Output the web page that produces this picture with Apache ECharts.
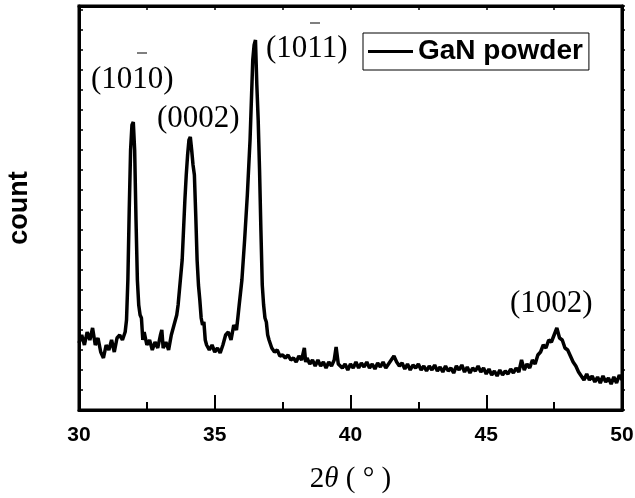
<!DOCTYPE html>
<html>
<head>
<meta charset="utf-8">
<script src="https://cdn.jsdelivr.net/npm/echarts@6/dist/echarts.min.js"></script>
<style>
  html, body { margin: 0; padding: 0; background: #fff; }
  #chart { width: 635px; height: 498px; }
</style>
</head>
<body>
<div id="chart"></div>
<script>
  // 2theta positions (deg) and intensities
  var angle = [
    30.0, 30.1, 30.2, 30.3, 30.4, 30.5, 30.6, 30.7, 30.8, 30.9,
    31.0, 31.1, 31.2, 31.3, 31.4, 31.5, 31.6, 31.7, 31.75, 31.8,
    31.85, 31.9, 31.95, 32.0, 32.05, 32.1, 32.15, 32.2, 32.25, 32.3,
    32.35, 32.4, 32.5, 32.6, 32.7, 32.8, 32.9, 33.0, 33.05, 33.1,
    33.2, 33.3, 33.4, 33.5, 33.6, 33.65, 33.7, 33.8, 33.85, 33.9,
    33.95, 34.0, 34.05, 34.1, 34.15, 34.2, 34.25, 34.3, 34.35, 34.4,
    34.45, 34.5, 34.55, 34.6, 34.65, 34.7, 34.8, 34.9, 35.0, 35.1,
    35.2, 35.3, 35.4, 35.5, 35.6, 35.7, 35.8, 35.85, 35.9, 36.0,
    36.1, 36.2, 36.3, 36.35, 36.4, 36.45, 36.5, 36.55, 36.6, 36.65,
    36.7, 36.75, 36.8, 36.85, 36.9, 36.95, 37.0, 37.1, 37.2, 37.3,
    37.4, 37.5, 37.6, 37.7, 37.8, 37.9, 38.0, 38.1, 38.2, 38.3,
    38.35, 38.4, 38.5, 38.6, 38.7, 38.8, 38.9, 39.0, 39.1, 39.2,
    39.3, 39.4, 39.47, 39.55, 39.6, 39.7, 39.8, 39.9, 40.0, 40.1,
    40.2, 40.3, 40.4, 40.5, 40.6, 40.7, 40.8, 40.9, 41.0, 41.1,
    41.2, 41.3, 41.4, 41.5, 41.6, 41.7, 41.8, 41.9, 42.0, 42.1,
    42.2, 42.3, 42.4, 42.5, 42.6, 42.7, 42.8, 42.9, 43.0, 43.1,
    43.2, 43.3, 43.4, 43.5, 43.6, 43.7, 43.8, 43.9, 44.0, 44.1,
    44.2, 44.3, 44.4, 44.5, 44.6, 44.7, 44.8, 44.9, 45.0, 45.1,
    45.2, 45.3, 45.4, 45.5, 45.6, 45.7, 45.8, 45.9, 46.0, 46.1,
    46.2, 46.3, 46.4, 46.5, 46.6, 46.7, 46.8, 46.9, 47.0, 47.1,
    47.2, 47.3, 47.4, 47.5, 47.55, 47.6, 47.65, 47.7, 47.8, 47.9,
    48.0, 48.1, 48.2, 48.3, 48.4, 48.5, 48.6, 48.7, 48.8, 48.9,
    49.0, 49.1, 49.2, 49.3, 49.4, 49.5, 49.6, 49.7, 49.8, 49.9,
    50.0
  ]
  var counts = [
    335, 375, 325, 390, 350, 410, 325, 360, 290, 260,
    325, 300, 350, 290, 360, 375, 350, 390, 450, 650,
    1000, 1300, 1425, 1440, 1300, 950, 650, 525, 475, 460,
    350, 390, 325, 350, 300, 340, 310, 375, 400, 310,
    340, 300, 375, 425, 475, 525, 600, 750, 900, 1050,
    1175, 1275, 1350, 1365, 1300, 1225, 1175, 975, 750, 625,
    550, 460, 425, 440, 350, 325, 300, 325, 290, 310,
    285, 325, 375, 390, 350, 425, 400, 460, 525, 650,
    850, 1075, 1350, 1550, 1750, 1825, 1850, 1625, 1450, 1200,
    900, 625, 525, 460, 440, 375, 350, 310, 290, 300,
    270, 275, 260, 275, 250, 260, 240, 270, 250, 310,
    240, 260, 230, 250, 220, 250, 220, 240, 210, 240,
    220, 250, 315, 230, 240, 210, 230, 200, 230, 210,
    240, 210, 235, 215, 240, 210, 230, 205, 235, 215,
    240, 210, 230, 250, 270, 240, 220, 235, 205, 230,
    200, 225, 210, 230, 200, 220, 195, 220, 200, 225,
    195, 215, 190, 220, 195, 210, 185, 220, 200, 225,
    190, 215, 185, 210, 195, 220, 190, 210, 180, 205,
    175, 195, 170, 200, 175, 195, 180, 205, 185, 210,
    190, 250, 200, 230, 210, 250, 230, 275, 290, 325,
    310, 350, 340, 375, 370, 410, 420, 360, 350, 310,
    300, 270, 240, 220, 190, 170, 150, 180, 150, 170,
    140, 165, 135, 170, 140, 160, 130, 165, 135, 175,
    150
  ]
  var xTicks = [30, 35, 40, 45, 50]
  var peakNames = ['(1010)', '(0002)', '(1011)', '(1002)']
  var seriesName = 'GaN powder'

  var scan = []
  for (var i = 0; i < angle.length; i++) {
    scan.push([angle[i], counts[i]])
  }

  var chart = echarts.init(document.getElementById('chart'))
  var serif = '"Liberation Serif", "Times New Roman", serif'
  var sans = '"Liberation Sans", Arial, sans-serif'

  chart.setOption({
    backgroundColor: '#fff',
    animation: false,
    grid: {
      left: 79,
      right: 13,
      top: 6,
      bottom: 88,
      outerBoundsMode: 'none',
      containLabel: false,
      show: true,
      borderColor: '#000',
      borderWidth: 3
    },
    legend: {
      left: 363,
      top: 33,
      padding: [4, 6, 4, 5],
      borderColor: '#000',
      borderWidth: 1,
      itemWidth: 45,
      itemHeight: 3,
      textStyle: {
        fontFamily: sans,
        fontWeight: 'bold',
        fontSize: 28,
        lineHeight: 29,
        color: '#000'
      },
      data: [{ name: seriesName, icon: 'rect' }]
    },
    xAxis: [{
      type: 'value',
      min: xTicks[0],
      max: xTicks[xTicks.length - 1],
      interval: 5,
      axisLine: { onZero: false, lineStyle: { color: '#000', width: 3 } },
      axisTick: { inside: true, length: 15, lineStyle: { color: '#000', width: 2 } },
      minorTick: { show: true, splitNumber: 2, length: 8, lineStyle: { color: '#000', width: 2 } },
      splitLine: { show: false },
      axisLabel: {
        margin: 15,
        fontFamily: sans,
        fontWeight: 'bold',
        fontSize: 21,
        color: '#000'
      },
      name: '{n|2}{i|θ} ( ° )',
      nameLocation: 'middle',
      nameGap: 55,
      nameTextStyle: {
        fontFamily: serif,
        fontSize: 29,
        color: '#000',
        rich: {
          n: { fontFamily: serif, fontSize: 29, color: '#000' },
          i: { fontFamily: serif, fontStyle: 'italic', fontSize: 29, color: '#000' }
        }
      }
    }, {
      type: 'value',
      position: 'top',
      min: xTicks[0],
      max: xTicks[xTicks.length - 1],
      interval: 5,
      axisLine: { show: true, onZero: false, lineStyle: { color: '#000', width: 3 } },
      axisTick: { show: true, inside: true, length: 4, lineStyle: { color: '#000', width: 1.5 } },
      minorTick: { show: true, splitNumber: 2, length: 4, lineStyle: { color: '#000', width: 1.5 } },
      splitLine: { show: false },
      axisLabel: { show: false }
    }],
    yAxis: [{
      type: 'value',
      min: 0,
      max: 2020,
      interval: 100,
      axisLine: { show: true, onZero: false, lineStyle: { color: '#000', width: 3 } },
      axisTick: { show: true, inside: true, length: 4, lineStyle: { color: '#000', width: 1.5 } },
      splitLine: { show: false },
      axisLabel: { show: false },
      name: 'count',
      nameLocation: 'middle',
      nameGap: 46,
      nameTextStyle: {
        fontFamily: sans,
        fontWeight: 'bold',
        fontSize: 27,
        color: '#000'
      }
    }, {
      type: 'value',
      position: 'right',
      min: 0,
      max: 2020,
      interval: 100,
      axisLine: { show: true, onZero: false, lineStyle: { color: '#000', width: 3 } },
      axisTick: { show: true, inside: false, length: 3, lineStyle: { color: '#000', width: 1.5 } },
      splitLine: { show: false },
      axisLabel: { show: false }
    }],
    series: [{
      name: seriesName,
      type: 'line',
      xAxisIndex: 0,
      yAxisIndex: 0,
      data: scan,
      symbol: 'none',
      lineStyle: { color: '#000', width: 3.5 },
      itemStyle: { color: '#000' }
    }],
    graphic: [
      // peak labels (Miller-Bravais indices)
      { type: 'text', left: 91, top: 64, style: { text: peakNames[0], font: '31px ' + serif, fill: '#000' } },
      { type: 'text', left: 157, top: 103, style: { text: peakNames[1], font: '31px ' + serif, fill: '#000' } },
      { type: 'text', left: 266, top: 33, style: { text: peakNames[2], font: '31px ' + serif, fill: '#000' } },
      { type: 'text', left: 510, top: 288, style: { text: peakNames[3], font: '31px ' + serif, fill: '#000' } },
      // bars over the negative index
      { type: 'line', shape: { x1: 137, y1: 53, x2: 147, y2: 53 }, style: { stroke: '#555', lineWidth: 1.5 } },
      { type: 'line', shape: { x1: 310, y1: 23, x2: 320, y2: 23 }, style: { stroke: '#555', lineWidth: 1.5 } }
    ]
  })

  window.addEventListener('resize', function () {
    chart.resize()
  })
</script>
</body>
</html>
